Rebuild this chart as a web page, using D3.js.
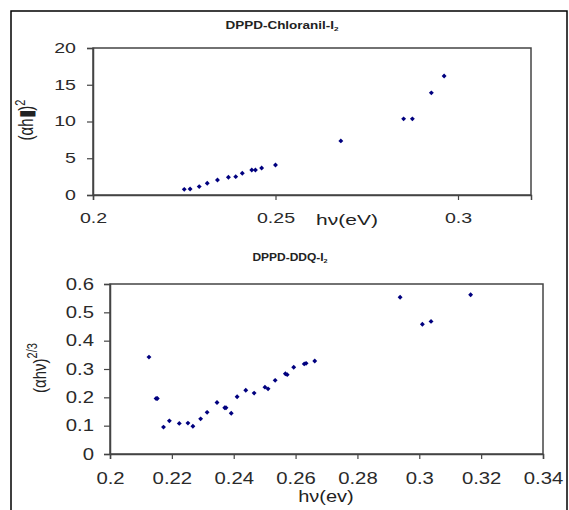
<!DOCTYPE html>
<html>
<head>
<meta charset="utf-8">
<script src="https://cdn.jsdelivr.net/npm/d3@7"></script>
<style>
    body { margin: 0; background: #fff; }
    svg text { font-family: "Liberation Sans", Arial, sans-serif; fill: #222; }
</style>
</head>
<body>
<div id="chart"></div>
<script>
// DPPD-Chloranil-I2 : (alpha h nu)^2 vs h nu
const chloranilHv = [0.225, 0.2266, 0.2291, 0.2313, 0.2341, 0.2371, 0.2391, 0.2409,
    0.2435, 0.2445, 0.2462, 0.25, 0.2679, 0.2851, 0.2875, 0.2927, 0.2962];
const chloranilY = [0.77, 0.82, 1.14, 1.59, 2.05, 2.41, 2.5, 2.95,
    3.4, 3.4, 3.68, 4.09, 7.36, 10.36, 10.36, 13.9, 16.2];

// DPPD-DDQ-I2 : (alpha h nu)^(2/3) vs h nu
const ddqHv = [0.2126, 0.2149, 0.2153, 0.2173, 0.2192, 0.2224, 0.2252, 0.2268, 0.2293,
    0.2314, 0.2346, 0.2371, 0.2375, 0.2392, 0.2411, 0.2439, 0.2466, 0.2501, 0.2511,
    0.2534, 0.2567, 0.2573, 0.2594, 0.2628, 0.2634, 0.2662, 0.2938, 0.301, 0.3038, 0.3166];
const ddqY = [0.342, 0.196, 0.196, 0.095, 0.117, 0.108, 0.109, 0.098, 0.124,
    0.147, 0.182, 0.163, 0.163, 0.144, 0.202, 0.225, 0.215, 0.236, 0.23,
    0.26, 0.283, 0.28, 0.306, 0.318, 0.32, 0.328, 0.553, 0.458, 0.468, 0.562];

const topXTicks = [0.2, 0.25, 0.3];
const topYTicks = [0, 5, 10, 15, 20];
const botXTicks = [0.2, 0.22, 0.24, 0.26, 0.28, 0.3, 0.32, 0.34];
const botYTicks = [0, 0.1, 0.2, 0.3, 0.4, 0.5, 0.6];

const width = 569, height = 510;

const svg = d3.select("#chart")
    .append("svg")
    .attr("width", width)
    .attr("height", height);

// outer frame (runs off the bottom of the picture)
svg.append("rect")
    .attr("x", 11).attr("y", 11)
    .attr("width", 556).attr("height", 520)
    .attr("fill", "none")
    .attr("stroke", "#000")
    .attr("stroke-width", 1.5);

// the original picture is stretched sideways, so text is widened with scale(sx, 1)
function label(g, x, y, txt, size, sx, rotate) {
    const t = g.append("text")
        .attr("transform", `translate(${x}, ${y}) scale(${sx}, 1)` + (rotate ? " rotate(-90)" : ""))
        .style("text-anchor", "middle")
        .style("font-size", size + "px")
        .text(txt);
    return t;
}

function drawPanel(cfg) {
    const x = d3.scaleLinear().domain(cfg.xDomain).range([cfg.left, cfg.right]);
    const y = d3.scaleLinear().domain(cfg.yDomain).range([cfg.bottom, cfg.top]);

    const g = svg.append("g");

    // plot box
    g.append("rect")
        .attr("x", cfg.left).attr("y", cfg.top)
        .attr("width", cfg.right - cfg.left)
        .attr("height", cfg.bottom - cfg.top)
        .attr("fill", "none")
        .attr("stroke", "#444")
        .attr("stroke-width", 1.5);

    const xAxis = d3.axisBottom(x)
        .tickValues(cfg.xTicks)
        .tickSize(5)
        .tickPadding(cfg.xPad)
        .tickFormat(d3.format(""));
    const yAxis = d3.axisLeft(y)
        .tickValues(cfg.yTicks)
        .tickSize(6)
        .tickFormat(d3.format(""));

    const gx = g.append("g")
        .attr("transform", "translate(0, " + cfg.bottom + ")")
        .call(xAxis);
    const gy = g.append("g")
        .attr("transform", "translate(" + cfg.left + ", 0)")
        .call(yAxis);

    [gx, gy].forEach(a => {
        a.select(".domain").attr("stroke", "#444").attr("stroke-width", 1.5);
        a.selectAll(".tick line").attr("stroke", "#444").attr("stroke-width", 1.2);
        a.selectAll(".tick text")
            .style("font-size", cfg.fontSize + "px")
            .style("fill", "#2a2a2a");
    });
    gx.selectAll(".tick text")
        .attr("transform", `scale(${cfg.sx}, 1)`);
    gy.selectAll(".tick text")
        .attr("x", 0)
        .attr("transform", `translate(${-cfg.yPad}, 0) scale(${cfg.sx}, 1)`);

    g.selectAll("path.pt")
        .data(cfg.xs.map((v, i) => [v, cfg.ys[i]]))
        .enter()
        .append("path")
        .attr("class", "pt")
        .attr("d", d3.symbol().type(d3.symbolSquare).size(12))
        .attr("transform", d => `translate(${x(d[0])}, ${y(d[1])}) rotate(45)`)
        .attr("fill", "#00007f");

    // title
    const t = label(g, cfg.titleX, cfg.titleY, cfg.title, 10, cfg.titleSx)
        .style("font-weight", "bold");
    t.append("tspan").attr("dy", 2).style("font-size", "6px").text("2");

    return g;
}

const topPanel = drawPanel({
    left: 93, right: 531, top: 48, bottom: 195,
    xDomain: [0.2, 0.32], yDomain: [0, 20],
    xTicks: topXTicks, yTicks: topYTicks,
    fontSize: 14, sx: 1.4, xPad: 13, yPad: 17,
    xs: chloranilHv, ys: chloranilY,
    title: "DPPD-Chloranil-I", titleX: 282, titleY: 29, titleSx: 1.35
});

label(topPanel, 347, 225, "hν(eV)", 15, 1.4);

const topYLabel = label(topPanel, 33, 120, "(αh▮)", 15, 1.3, true);
topYLabel.append("tspan").attr("dy", -6).style("font-size", "11px").text("2");

const botPanel = drawPanel({
    left: 110, right: 543, top: 284, bottom: 454,
    xDomain: [0.2, 0.34], yDomain: [0, 0.6],
    xTicks: botXTicks, yTicks: botYTicks,
    fontSize: 16, sx: 1.27, xPad: 14, yPad: 16,
    xs: ddqHv, ys: ddqY,
    title: "DPPD-DDQ-I", titleX: 290, titleY: 261, titleSx: 1.2
});

label(botPanel, 326, 502, "hν(ev)", 16, 1.25);

const botYLabel = label(botPanel, 46, 368, "(αhν)", 15, 1.27, true);
botYLabel.append("tspan").attr("dy", -7).style("font-size", "11px").text("2/3");
</script>
</body>
</html>
